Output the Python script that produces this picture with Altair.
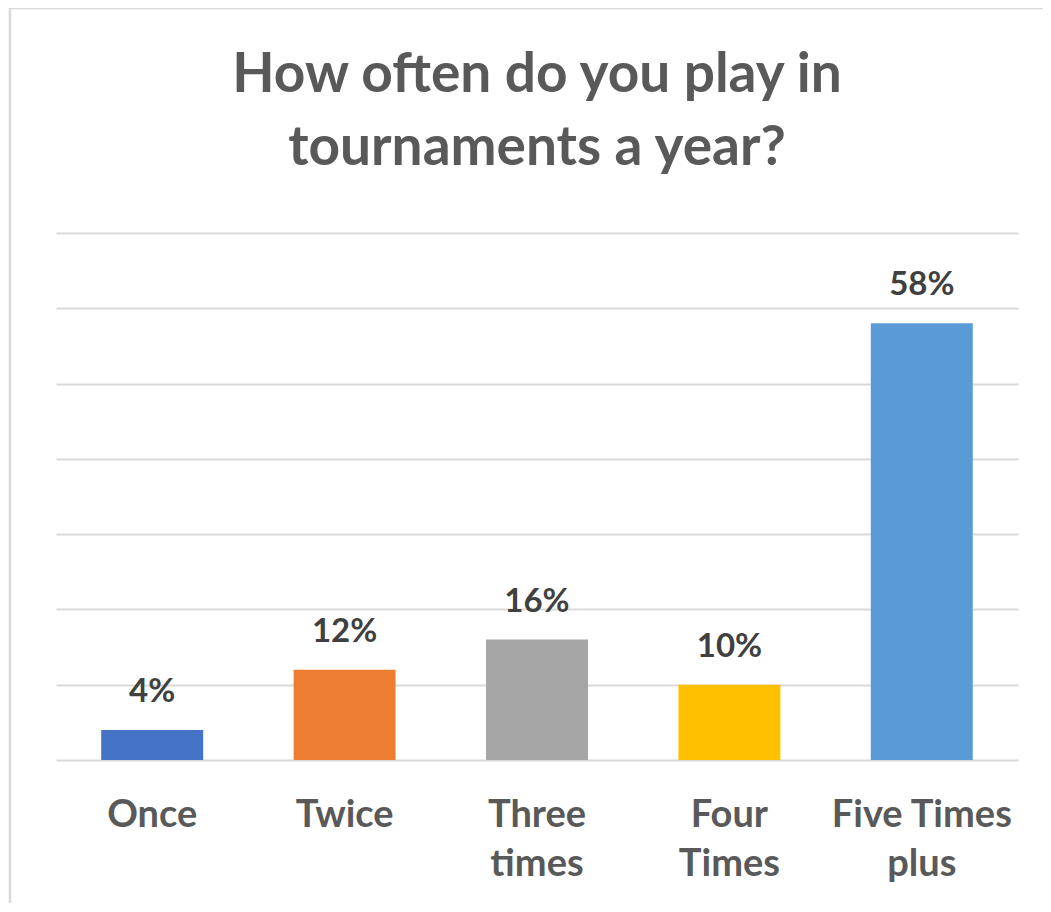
import altair as alt
import pandas as pd

categories = ["Once", "Twice", "Three\ntimes", "Four\nTimes", "Five Times\nplus"]
values = [0.04, 0.12, 0.16, 0.10, 0.58]
colors = ["#4472C4", "#ED7D31", "#A5A5A5", "#FFC000", "#5B9BD5"]
grid_values = [0, 0.1, 0.2, 0.3, 0.4, 0.5, 0.6, 0.7]
title_lines = ["How often do you play in", "tournaments  a year?"]

df = pd.DataFrame({"cat": categories, "val": values})
one = pd.DataFrame({"k": [0]})

FONT = "Lato"
W, H = 962, 527

x = alt.X(
    "cat:N",
    sort=categories,
    scale=alt.Scale(paddingInner=0.47, paddingOuter=0.235),
    axis=alt.Axis(
        title=None,
        labelExpr="split(datum.label, '\\n')",
        labelFont=FONT,
        labelFontWeight="bold",
        labelFontSize=38,
        labelColor="#595959",
        labelLineHeight=49,
        labelPadding=36,
        labelAngle=0,
        labelLimit=400,
        ticks=False,
        domain=False,
    ),
)
y = alt.Y(
    "val:Q",
    scale=alt.Scale(domain=[0, 0.7], nice=False),
    axis=alt.Axis(
        title=None,
        values=grid_values,
        labels=False,
        ticks=False,
        domain=False,
        grid=True,
        gridColor="#d9d9d9",
        gridWidth=2,
    ),
)

bars = alt.Chart(df).mark_bar().encode(
    x=x,
    y=y,
    color=alt.Color("cat:N", scale=alt.Scale(domain=categories, range=colors), legend=None),
)

labels = alt.Chart(df).mark_text(
    font=FONT, fontWeight="bold", fontSize=33, color="#404040",
    baseline="alphabetic", dy=-28,
).encode(
    x=alt.X("cat:N", sort=categories),
    y=alt.Y("val:Q"),
    text=alt.Text("val:Q", format=".0%"),
)

title = alt.Chart(one).mark_text(
    text=title_lines, font=FONT, fontWeight="bold", fontSize=55,
    color="#595959", lineHeight=73, align="center", baseline="alphabetic",
).encode(
    x=alt.value(W / 2), y=alt.value(-141),
)

frame_left = alt.Chart(one).mark_rule(color="#d9d9d9", strokeWidth=2.5).encode(
    x=alt.value(-46), y=alt.value(-225), y2=alt.value(H + 150),
)
frame_top = alt.Chart(one).mark_rule(color="#d9d9d9", strokeWidth=2.5).encode(
    x=alt.value(-46), x2=alt.value(W + 40), y=alt.value(-225),
)

chart = alt.layer(frame_left, frame_top, title, bars, labels).properties(
    width=W,
    height=H,
    autosize=alt.AutoSizeParams(type="none"),
    padding={"left": 48, "top": 225, "right": 25, "bottom": 143},
).configure(background="white").configure_view(stroke=None, strokeWidth=0)

chart.save("out.html", embed_options={"renderer": "svg", "actions": False})
